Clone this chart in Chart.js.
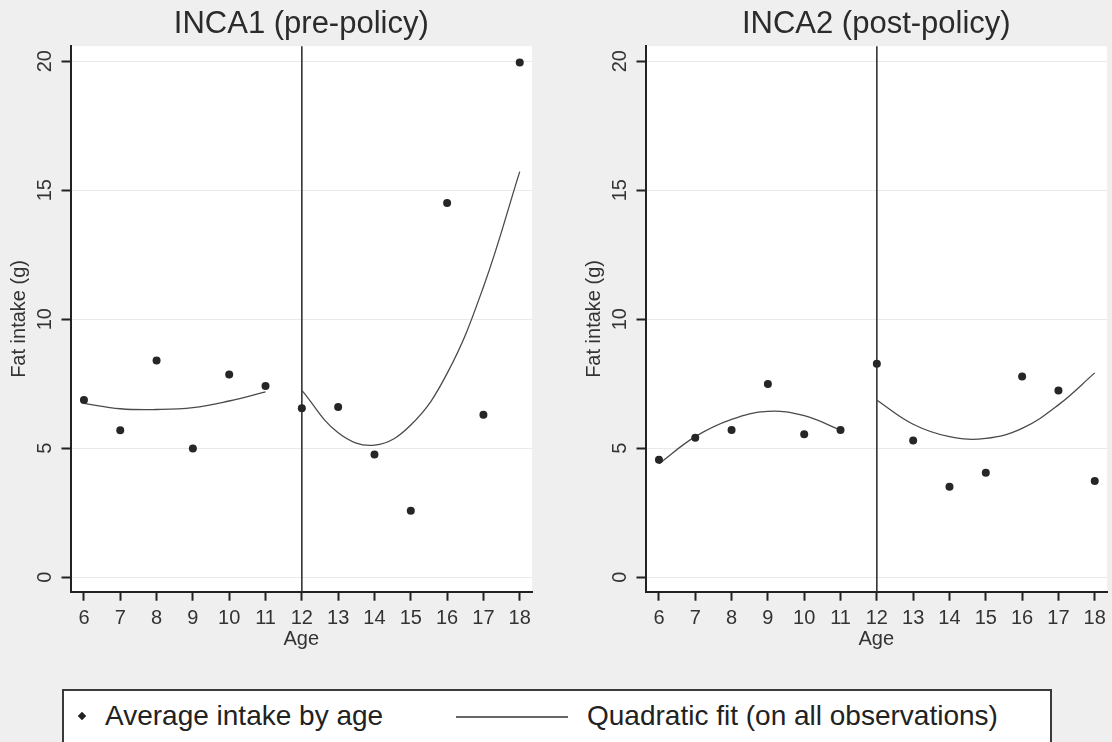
<!DOCTYPE html>
<html>
<head>
<meta charset="utf-8">
<script src="https://cdn.jsdelivr.net/npm/chart.js@4.4.0/dist/chart.umd.min.js"></script>
<style>
  html, body { margin: 0; padding: 0; background: #efefef; overflow: hidden; }
  body { width: 1112px; height: 742px; position: relative; font-family: "Liberation Sans", Arial, sans-serif; }
  canvas.panel { position: absolute; top: 0; }
  #leftPanel { left: 0; }
  #rightPanel { left: 575px; }
  .legend { position: absolute; left: 62px; top: 689px; width: 990px; height: 80px;
            background: #fff; border: 2px solid #3a3a3a; box-sizing: border-box; color: #222; }
  .legend .dot { position: absolute; left: 15px; top: 22px; width: 6px; height: 6px; background: #222; transform: rotate(45deg); }
  .legend .txt { position: absolute; top: 9px; font-size: 28px; line-height: 32px; white-space: nowrap; }
  .legend .line { position: absolute; left: 392px; top: 25px; width: 112px; height: 2px; background: #666; }
</style>
</head>
<body>
<canvas id="leftPanel" class="panel" width="537" height="660"></canvas>
<canvas id="rightPanel" class="panel" width="537" height="660"></canvas>
<div class="legend">
  <span class="dot"></span>
  <span class="txt" style="left: 41px;">Average intake by age</span>
  <span class="line"></span>
  <span class="txt" style="left: 523px;">Quadratic fit (on all observations)</span>
</div>

<script>
// ages and average fat intake (g)
const ages = [6, 7, 8, 9, 10, 11, 12, 13, 14, 15, 16, 17, 18];
const inca1Intake = [6.87, 5.70, 8.40, 4.99, 7.86, 7.41, 6.55, 6.60, 4.76, 2.58, 14.50, 6.30, 19.95];
const inca2Intake = [4.55, 5.41, 5.71, 7.49, 5.54, 5.71, 8.27, 5.30, 3.51, 4.05, 7.78, 7.24, 3.73];

// quadratic fit curves, read at each age, separately before and after 12
const fitAgesPre = [6, 7, 8, 9, 10, 11];
const fitAgesPost = [12, 13, 14, 15, 16, 17, 18];
const inca1FitPre = [6.74, 6.53, 6.50, 6.57, 6.83, 7.18];
const inca1FitPost = [7.24, 5.60, 5.12, 5.90, 7.90, 11.25, 15.72];
const inca2FitPre = [4.40, 5.45, 6.12, 6.43, 6.26, 5.70];
const inca2FitPost = [6.86, 5.93, 5.45, 5.38, 5.77, 6.68, 7.92];

const cutoffAge = 12;
const yTicks = [0, 5, 10, 15, 20];

const FONT = '"Liberation Sans", Arial, sans-serif';
Chart.defaults.font.family = FONT;

const toPoints = (xs, ys) => xs.map((x, i) => ({ x: x, y: ys[i] }));

// white plot region + vertical line at the cutoff age
const plotDecor = {
    id: 'plotDecor',
    beforeDraw(chart) {
        const { ctx, chartArea: a } = chart;
        ctx.save();
        ctx.fillStyle = '#ffffff';
        ctx.fillRect(a.left, a.top, a.right - a.left, a.bottom - a.top);
        ctx.restore();
    },
    beforeDatasetsDraw(chart) {
        const { ctx, chartArea: a } = chart;
        const x = chart.scales.x.getPixelForValue(cutoffAge);
        ctx.save();
        ctx.strokeStyle = '#333333';
        ctx.lineWidth = 1.6;
        ctx.beginPath();
        ctx.moveTo(x, a.top);
        ctx.lineTo(x, a.bottom);
        ctx.stroke();
        ctx.restore();
    },
};

function makePanel(canvasId, title, intake, fitPre, fitPost) {
    const fitStyle = {
        showLine: true,
        borderColor: '#4a4a4a',
        borderWidth: 1.3,
        pointRadius: 0,
        tension: 0.4,
        fill: false,
    };
    return new Chart(document.getElementById(canvasId), {
        type: 'scatter',
        data: {
            datasets: [
                {
                    label: 'Average intake by age',
                    data: toPoints(ages, intake),
                    pointStyle: 'circle',
                    pointRadius: 4,
                    backgroundColor: '#262626',
                    borderWidth: 0,
                },
                { label: 'Quadratic fit (on all observations)', data: toPoints(fitAgesPre, fitPre), ...fitStyle },
                { label: 'Quadratic fit post', data: toPoints(fitAgesPost, fitPost), ...fitStyle },
            ],
        },
        options: {
            responsive: false,
            animation: false,
            events: [],
            layout: { padding: { left: 7, right: 3, top: 0, bottom: 9 } },
            plugins: {
                legend: { display: false },
                tooltip: { enabled: false },
                title: {
                    display: true,
                    text: title,
                    fullSize: false,
                    color: '#2b2b2b',
                    font: { size: 31, weight: 'normal' },
                    padding: { top: 6, bottom: 3 },
                },
            },
            scales: {
                x: {
                    type: 'linear',
                    min: 5.63,
                    max: 18.34,
                    afterFit: (s) => { s.height = 59.3; },
                    grid: { drawOnChartArea: false, tickLength: 9, tickWidth: 2, tickColor: '#222' },
                    border: { display: true, color: '#222', width: 2 },
                    ticks: {
                        stepSize: 1,
                        includeBounds: false,
                        autoSkip: false,
                        maxRotation: 0,
                        padding: 6,
                        color: '#333',
                        font: { size: 20 },
                    },
                    title: { display: true, text: 'Age', color: '#333', font: { size: 20 }, padding: 0 },
                },
                y: {
                    type: 'linear',
                    min: -0.56,
                    max: 20.58,
                    afterFit: (s) => { s.width = 63.5; },
                    afterBuildTicks: (s) => { s.ticks = yTicks.map((v) => ({ value: v })); },
                    grid: { color: '#e9e9e9', lineWidth: 1, tickLength: 9, tickWidth: 2, tickColor: '#222' },
                    border: { display: true, color: '#222', width: 2 },
                    ticks: {
                        minRotation: 90,
                        maxRotation: 90,
                        crossAlign: 'center',
                        padding: 5,
                        color: '#333',
                        font: { size: 20 },
                    },
                    title: { display: true, text: 'Fat intake (g)', color: '#333', font: { size: 20 }, padding: 0 },
                },
            },
        },
        plugins: [plotDecor],
    });
}

makePanel('leftPanel', 'INCA1 (pre-policy)', inca1Intake, inca1FitPre, inca1FitPost);
makePanel('rightPanel', 'INCA2 (post-policy)', inca2Intake, inca2FitPre, inca2FitPost);
</script>
</body>
</html>
